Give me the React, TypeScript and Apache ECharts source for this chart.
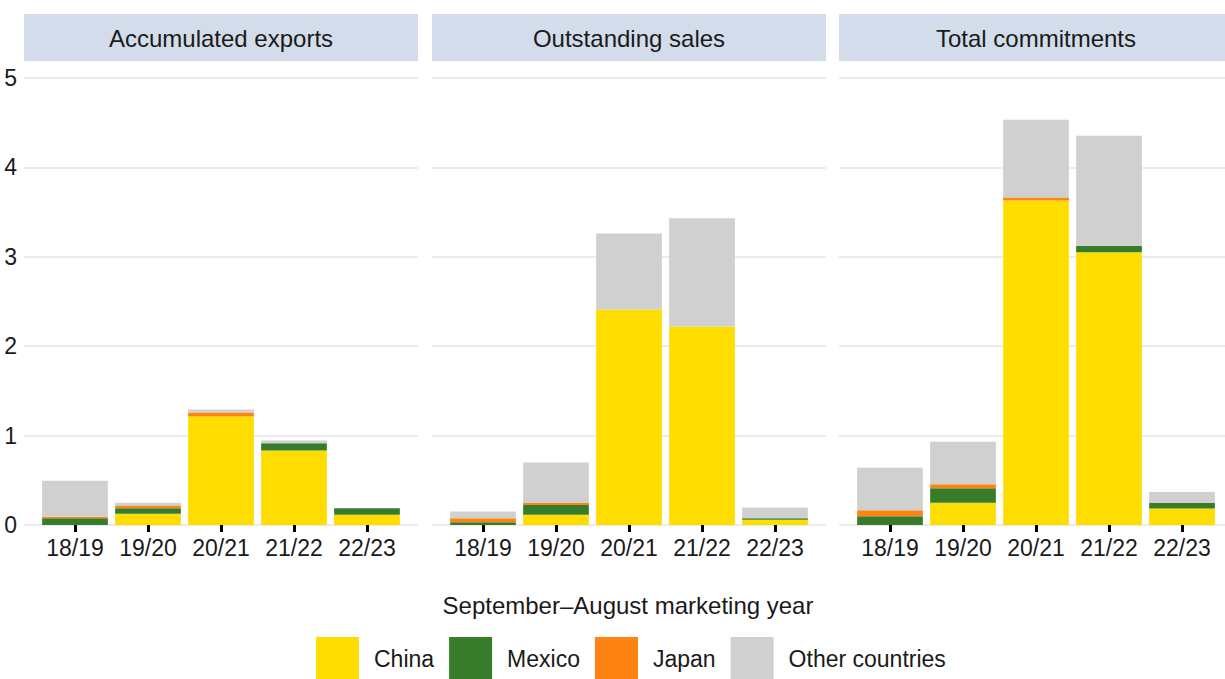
import React, { useEffect, useRef } from "react";
import * as echarts from "echarts";

const categories = ["18/19", "19/20", "20/21", "21/22", "22/23"];
const panelTitles = ["Accumulated exports", "Outstanding sales", "Total commitments"];
const countries = ["China", "Mexico", "Japan", "Other countries"];
const yTicks = [0, 1, 2, 3, 4, 5];

// Accumulated exports
const accChina = [0, 0.127, 1.213, 0.832, 0.116];
const accMexico = [0.075, 0.06, 0, 0.082, 0.071];
const accJapan = [0.018, 0.03, 0.045, 0, 0];
const accOther = [0.403, 0.033, 0.034, 0.03, 0];

// Outstanding sales
const outChina = [0, 0.115, 2.41, 2.22, 0.06];
const outMexico = [0.03, 0.11, 0, 0, 0.015];
const outJapan = [0.045, 0.02, 0, 0, 0];
const outOther = [0.075, 0.455, 0.85, 1.21, 0.12];

// Total commitments
const totChina = [0, 0.25, 3.63, 3.05, 0.185];
const totMexico = [0.097, 0.16, 0, 0.075, 0.063];
const totJapan = [0.067, 0.045, 0.034, 0, 0];
const totOther = [0.477, 0.477, 0.87, 1.23, 0.12];

const panelData = [
  [accChina, accMexico, accJapan, accOther],
  [outChina, outMexico, outJapan, outOther],
  [totChina, totMexico, totJapan, totOther],
];

const colors = ["#FFDD00", "#367C2B", "#FD8412", "#CFD0CF"];
const FONT = "'Liberation Sans', Arial, sans-serif";
const TEXT = "#1a1a1a";

export default function App() {
  const ref = useRef<HTMLDivElement>(null);
  useEffect(() => {
    if (!ref.current) return;
    const chart = echarts.init(ref.current, null, { renderer: "svg" });
    const panelLeft = [24, 432, 839];
    const panelW = 394;
    const barW = 365;
    const top = 78;
    const height = 447;

    const grid: any[] = [];
    const xAxis: any[] = [];
    const yAxis: any[] = [];
    const series: any[] = [];
    const graphic: any[] = [];

    panelLeft.forEach((L, p) => {
      grid.push({ left: L, top, width: panelW, height, containLabel: false });
      xAxis.push({ type: "value", gridIndex: 2 * p, show: false, min: 0, max: 1 });
      yAxis.push({
        type: "value",
        gridIndex: 2 * p,
        min: yTicks[0],
        max: yTicks[yTicks.length - 1],
        interval: 1,
        axisLine: { show: false },
        axisTick: { show: false },
        axisLabel: {
          show: p === 0,
          fontSize: 23,
          color: TEXT,
          fontFamily: FONT,
          margin: 7,
        },
        splitLine: { show: true, lineStyle: { color: "#EBEBEB", width: 2 } },
      });
      grid.push({ left: L + (panelW - barW) / 2, top, width: barW, height, containLabel: false });
      xAxis.push({
        type: "category",
        gridIndex: 2 * p + 1,
        data: categories,
        axisLine: { show: false },
        axisTick: { show: true, alignWithLabel: true, length: 7, lineStyle: { color: "#000000", width: 3 } },
        axisLabel: { fontSize: 23, color: TEXT, fontFamily: FONT, margin: 11, interval: 0 },
      });
      yAxis.push({
        type: "value",
        gridIndex: 2 * p + 1,
        min: 0,
        max: 5,
        interval: 1,
        show: false,
        splitLine: { show: false },
      });
      countries.forEach((c, i) => {
        series.push({
          type: "bar",
          name: c,
          stack: "s" + p,
          xAxisIndex: 2 * p + 1,
          yAxisIndex: 2 * p + 1,
          data: panelData[p][i],
          barCategoryGap: "10%",
          itemStyle: { color: colors[i] },
        });
      });
      graphic.push({
        type: "rect",
        shape: { x: L, y: 14, width: panelW, height: 47 },
        style: { fill: "#D3DCEA" },
        silent: true,
      });
      graphic.push({
        type: "text",
        x: L + panelW / 2,
        y: 38,
        style: {
          text: panelTitles[p],
          fontSize: 24,
          fontFamily: FONT,
          fill: TEXT,
          textAlign: "center",
          textVerticalAlign: "middle",
        },
        silent: true,
      });
    });

    graphic.push({
      type: "text",
      x: 628,
      y: 605,
      style: {
        text: "September\u2013August marketing year",
        fontSize: 24,
        fontFamily: FONT,
        fill: TEXT,
        textAlign: "center",
        textVerticalAlign: "middle",
      },
      silent: true,
    });

    chart.setOption({
      animation: false,
      backgroundColor: "#ffffff",
      grid,
      xAxis,
      yAxis,
      series,
      graphic,
      legend: {
        data: countries,
        left: 311,
        top: 632,
        itemWidth: 43,
        itemHeight: 43,
        itemGap: 15,
        icon: "rect",
        textStyle: { fontSize: 23, color: TEXT, fontFamily: FONT, padding: [0, 0, 0, 10] },
      },
    });
    return () => chart.dispose();
  }, []);
  return (
    <div
      ref={ref}
      style={{ position: "absolute", left: 0, top: 0, width: 1225, height: 679 }}
    />
  );
}
